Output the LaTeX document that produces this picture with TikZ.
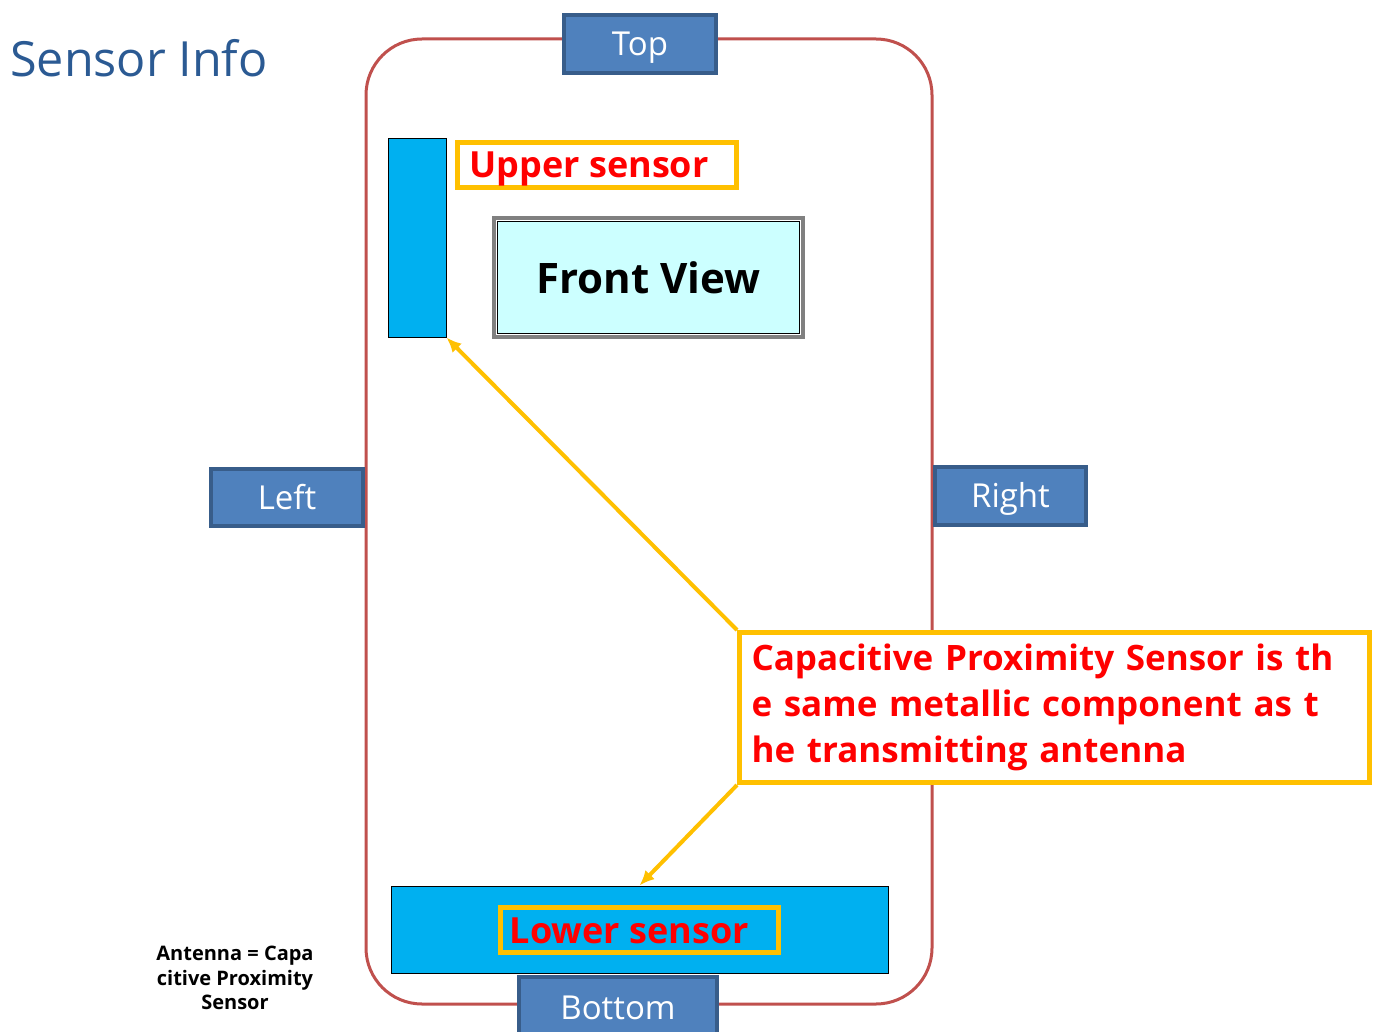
\documentclass[tikz,border=0pt]{standalone}
\usepackage{fontspec}
\setmainfont{Open Sans}
\usetikzlibrary{arrows.meta}
\definecolor{phonered}{HTML}{C0504D}
\definecolor{tabfill}{HTML}{4F81BD}
\definecolor{tabline}{HTML}{385D8A}
\definecolor{barblue}{HTML}{00B0F0}
\definecolor{orng}{HTML}{FFC000}
\definecolor{titleblue}{HTML}{2B5A93}
\definecolor{fvfill}{HTML}{CCFFFF}
\tikzset{
  tab/.style={draw=tabline, fill=tabfill, line width=4pt, text=white, inner sep=0pt,
    text height=23pt, text depth=0pt, font=\fontsize{33}{38}\selectfont},
  bar/.style={draw=black, fill=barblue, line width=1pt, inner sep=0pt},
  lbl/.style={draw=orng, line width=5pt, inner sep=0pt, text=red,
    text height=26pt, text depth=0pt, font=\fontsize{36}{42}\selectfont\bfseries},
  callarrow/.style={draw=orng, line width=4pt, -{Latex[length=15pt,width=13pt]}},
}
\begin{document}
\begin{tikzpicture}[x=1pt,y=-1pt]
\useasboundingbox[fill=white] (0,0) rectangle (1375,1032);
% title
\node[anchor=base west, inner sep=0pt, text=titleblue, font=\fontsize{48.5}{55}\selectfont] (title) at (10,77) {Sensor Info};
% phone outline
\draw[phonered, line width=3pt, rounded corners=56pt] (366,39) rectangle (932,1004);
% tabs
\node[tab, minimum width=152, minimum height=58] (top) at (640,44) {Top};
\node[tab, minimum width=152, minimum height=57] (left) at (287,497.5) {Left};
\node[tab, minimum width=151, minimum height=58] (right) at (1010.5,496) {Right};
\node[tab, minimum width=198, minimum height=62] (bottom) at (618,1008) {Bottom};
% upper sensor bar and label
\node[bar, minimum width=58, minimum height=198] (ubar) at (417,238) {};
\node[lbl, minimum width=279, minimum height=45] (ulbl) at (597,165) {Upper sensor\kern16pt};
% front view
\node[draw=gray, line width=4pt, minimum width=309, minimum height=119, inner sep=0pt] (fvo) at (648.5,277.5) {};
\node[draw=black, fill=fvfill, line width=1.5pt, minimum width=302, minimum height=112, inner sep=0pt,
  font=\fontsize{42}{48}\selectfont\bfseries] (fv) at (648.5,277.5) {Front View};
% lower sensor bar and label
\node[bar, minimum width=497, minimum height=87] (lbar) at (639.5,929.5) {};
\node[lbl, minimum width=278, minimum height=45] (llbl) at (639.5,930) {Lower sensor\kern20pt};
% callout
\node[draw=orng, fill=white, line width=5pt, minimum width=630, minimum height=150,
  inner xsep=12pt, inner ysep=0pt, text width=606, align=left, text=red,
  font=\fontsize{35}{46}\selectfont\bfseries] (call) at (1054.5,707.5)
  {Capacitive Proximity Sensor is th\\e same metallic component as t\\he transmitting antenna};
% arrows
\draw[callarrow] (call.north west) -- (ubar.south east);
\draw[callarrow] (call.south west) -- (lbar.north);
% antenna note
\node[align=center, inner sep=0pt, font=\fontsize{20}{24.5}\selectfont\bfseries] (note) at (235,978)
  {Antenna = Capa\\citive Proximity\\Sensor};
\end{tikzpicture}
\end{document}
